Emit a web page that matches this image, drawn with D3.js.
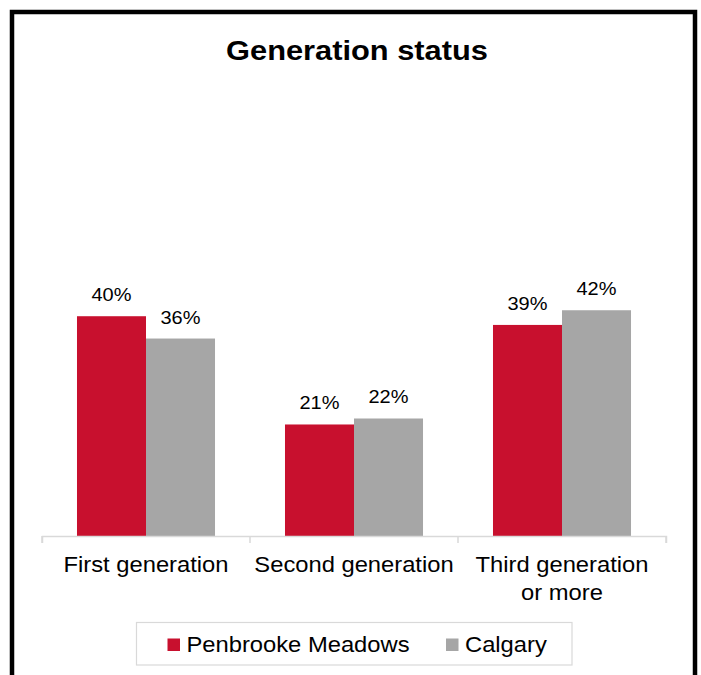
<!DOCTYPE html>
<html>
<head>
<meta charset="utf-8">
<script src="https://cdn.jsdelivr.net/npm/d3@7"></script>
<style>
  html, body { margin: 0; padding: 0; background: #fff; }
  svg { display: block; }
  text { font-family: "Liberation Sans", Arial, sans-serif; fill: #000; }
</style>
</head>
<body>
<svg id="chart" width="701" height="675"></svg>
<script>
const title = "Generation status";
const categories = ["First generation", "Second generation", "Third generation or more"];
const categoryLines = [["First generation"], ["Second generation"], ["Third generation", "or more"]];
const seriesNames = ["Penbrooke Meadows", "Calgary"];
const penbrookeValues = [40.4, 20.5, 38.8];
const calgaryValues = [36.3, 21.6, 41.5];
const seriesColors = ["#C8102E", "#A6A6A6"];

const seriesValues = [penbrookeValues, calgaryValues];
const rows = categories.map((c, i) => ({
  category: c,
  values: seriesNames.map((s, j) => ({ series: s, value: seriesValues[j][i] }))
}));

const svg = d3.select("#chart");
const SX = 1.08;

// outer frame
svg.append("rect")
  .attr("x", 12).attr("y", 12)
  .attr("width", 683).attr("height", 700)
  .attr("fill", "none").attr("stroke", "#000").attr("stroke-width", 4.5);

// title
svg.append("text")
  .attr("transform", `translate(357,60) scale(1.1,1)`)
  .attr("text-anchor", "middle")
  .attr("font-size", 28).attr("font-weight", "bold")
  .text(title);

const x0 = d3.scaleBand().domain(categories).range([42, 666]).paddingInner(0).paddingOuter(0);
const x1 = d3.scaleBand().domain(seriesNames).range([0, x0.bandwidth()]).paddingInner(0).paddingOuter(0.507);
const y = d3.scaleLinear().domain([0, 50]).range([536, 264]);
const color = d3.scaleOrdinal().domain(seriesNames).range(seriesColors);

// bars
const groups = svg.append("g").selectAll("g").data(rows).join("g")
  .attr("transform", d => `translate(${x0(d.category)},0)`);

groups.selectAll("rect").data(d => d.values).join("rect")
  .attr("x", d => x1(d.series))
  .attr("y", d => y(d.value))
  .attr("width", x1.bandwidth())
  .attr("height", d => y(0) - y(d.value))
  .attr("fill", d => color(d.series));

groups.selectAll("text.lbl").data(d => d.values).join("text")
  .attr("class", "lbl")
  .attr("transform", d => `translate(${x1(d.series) + x1.bandwidth() / 2},${y(d.value) - 15}) scale(${SX},1)`)
  .attr("text-anchor", "middle")
  .attr("font-size", 18.5)
  .text(d => d3.format(".0f")(d.value) + "%");

// x axis
const axis = d3.axisBottom(x0).tickSize(7).tickFormat("").tickSizeOuter(7);
const ax = svg.append("g").attr("transform", `translate(0,${y(0)})`).call(axis);
ax.selectAll("g.tick").remove();
ax.select("path.domain").attr("stroke", "#D9D9D9").attr("stroke-width", 1.5);
// category boundary ticks
const boundaries = categories.map(c => x0(c)).concat([x0.range()[1]]);
ax.selectAll("line.bt").data(boundaries).join("line")
  .attr("class", "bt")
  .attr("x1", d => d).attr("x2", d => d)
  .attr("y1", 0).attr("y2", 7)
  .attr("stroke", "#D9D9D9").attr("stroke-width", 1.5);

// category labels
const cl = svg.append("g").selectAll("g").data(categories).join("g");
cl.each(function(c, i) {
  const g = d3.select(this);
  categoryLines[i].forEach((line, k) => {
    g.append("text")
      .attr("transform", `translate(${x0(c) + x0.bandwidth() / 2},${572 + k * 28}) scale(${SX},1)`)
      .attr("text-anchor", "middle")
      .attr("font-size", 22)
      .text(line);
  });
});

// legend
const lg = svg.append("g");
lg.append("rect")
  .attr("x", 136.5).attr("y", 622.5)
  .attr("width", 435.5).attr("height", 42.5)
  .attr("fill", "#fff").attr("stroke", "#D9D9D9").attr("stroke-width", 1.2);
const legendX = [167.5, 446];
seriesNames.forEach((s, i) => {
  lg.append("rect")
    .attr("x", legendX[i]).attr("y", 638.5)
    .attr("width", 12.5).attr("height", 12.5)
    .attr("fill", color(s));
  lg.append("text")
    .attr("transform", `translate(${legendX[i] + 19},652) scale(${SX},1)`)
    .attr("font-size", 22)
    .text(s);
});
</script>
</body>
</html>
